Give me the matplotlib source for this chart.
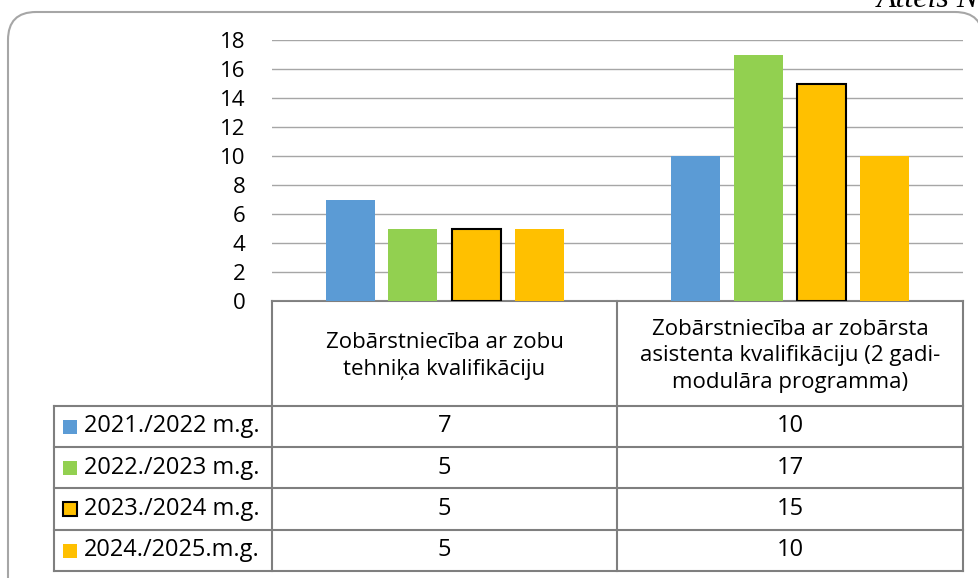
import matplotlib
matplotlib.use("Agg")
import matplotlib.pyplot as plt
from matplotlib.patches import FancyBboxPatch, Rectangle
import numpy as np

plt.rcParams["font.family"] = ["Open Sans", "DejaVu Sans"]

categories = [
    "Zobārstniecība ar zobu\ntehniķa kvalifikāciju",
    "Zobārstniecība ar zobārsta\nasistenta kvalifikāciju (2 gadi-\nmodulāra programma)",
]
series = ["2021./2022 m.g.", "2022./2023 m.g.", "2023./2024 m.g.", "2024./2025.m.g."]
values = [
    [7, 10],
    [5, 17],
    [5, 15],
    [5, 10],
]
colors = ["#5B9BD5", "#92D050", "#FFC000", "#FFC000"]
edges = [None, None, "black", None]
yticks = [0, 2, 4, 6, 8, 10, 12, 14, 16, 18]

W, H = 979, 578
fig = plt.figure(figsize=(W / 100, H / 100), dpi=100)

# overlay in pixel coordinates for frame and table
ov = fig.add_axes([0, 0, 1, 1])
ov.set_xlim(0, W)
ov.set_ylim(H, 0)
ov.set_axis_off()

ov.add_patch(FancyBboxPatch((8, 12), 975, 600, boxstyle="round,pad=0,rounding_size=28",
                            facecolor="white", edgecolor="#A6A6A6", linewidth=1.5))
ov.text(877, 7, "Attēls Nr.", family="Liberation Serif", style="italic",
        fontsize=23, ha="left", va="baseline")

# chart area in pixels
px_left, px_right, px_top, px_bottom = 272, 963, 40, 301
ax = fig.add_axes([px_left / W, (H - px_bottom) / H,
                   (px_right - px_left) / W, (px_bottom - px_top) / H])
ax.set_facecolor("none")
ax.set_xlim(-0.5, 1.5)
ax.set_ylim(0, 18)
ax.set_yticks(yticks)
ax.yaxis.grid(True, color="#A6A6A6", linewidth=1)
ax.set_axisbelow(True)
ax.tick_params(axis="y", length=0, pad=19, labelsize=16)
ax.set_xticks([])
for s in ax.spines.values():
    s.set_visible(False)

x = np.arange(len(categories))
offsets = [-0.274, -0.092, 0.091, 0.273]
bw = 0.142
for i in range(len(series)):
    ax.bar(x + offsets[i], values[i], width=bw, color=colors[i],
           edgecolor=edges[i] if edges[i] else colors[i],
           linewidth=1.5 if edges[i] else 0, zorder=3)

# table
line_kw = dict(color="#7F7F7F", linewidth=1.5)
col_x = [272, 617, 963]
row_y = [406, 447, 488, 530, 571]
ov.plot([272, 963], [301, 301], **line_kw)
for cx in col_x:
    ov.plot([cx, cx], [301, 571], **line_kw)
ov.plot([54, 54], [406, 571], **line_kw)
for ry in row_y:
    ov.plot([54, 963], [ry, ry], **line_kw)

centers = [(col_x[0] + col_x[1]) / 2, (col_x[1] + col_x[2]) / 2]
for ci, cat in enumerate(categories):
    ov.text(centers[ci], 356, cat, ha="center", va="center", fontsize=16,
            linespacing=1.32)

for i, name in enumerate(series):
    yc = (row_y[i] + row_y[i + 1]) / 2
    ov.add_patch(Rectangle((63, yc - 7), 14, 14, facecolor=colors[i],
                           edgecolor=edges[i] if edges[i] else colors[i],
                           linewidth=1.5 if edges[i] else 0))
    ov.text(84, yc, name, ha="left", va="center", fontsize=17)
    for ci in range(len(categories)):
        ov.text(centers[ci], yc, str(values[i][ci]), ha="center", va="center",
                fontsize=17)

fig.savefig("out.png", dpi=100)
